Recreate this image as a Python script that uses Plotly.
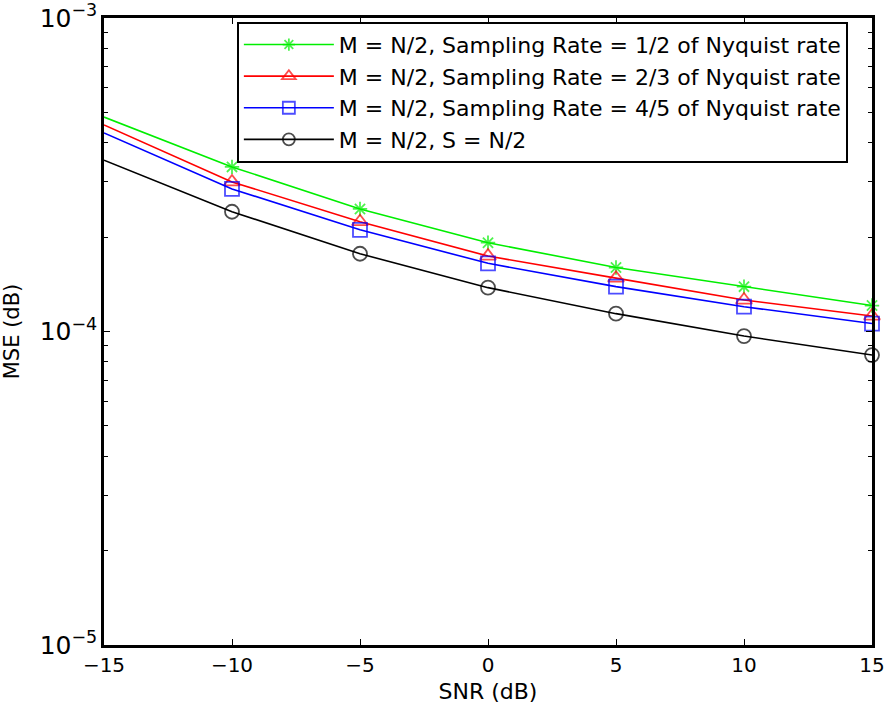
import plotly.graph_objects as go

# SNR sweep (dB)
snr = [-15, -10, -5, 0, 5, 10, 15]

# MSE curves for each sampling configuration
mse_half = [4.83e-4, 3.35e-4, 2.46e-4, 1.92e-4, 1.60e-4, 1.39e-4, 1.21e-4]
mse_two_thirds = [4.56e-4, 3.00e-4, 2.24e-4, 1.74e-4, 1.48e-4, 1.26e-4, 1.12e-4]
mse_four_fifths = [4.30e-4, 2.85e-4, 2.11e-4, 1.65e-4, 1.39e-4, 1.20e-4, 1.06e-4]
mse_s_half = [3.52e-4, 2.41e-4, 1.77e-4, 1.38e-4, 1.14e-4, 9.67e-5, 8.41e-5]

names = [
    "M = N/2, Sampling Rate = 1/2 of Nyquist rate",
    "M = N/2, Sampling Rate = 2/3 of Nyquist rate",
    "M = N/2, Sampling Rate = 4/5 of Nyquist rate",
    "M = N/2, S = N/2",
]
colors = ["#00ee00", "#ff0000", "#0000ff", "#000000"]
symbols = ["asterisk-open", "triangle-up-open", "square-open", "circle-open"]
sizes = [12, 14, 14, 14]
series = [mse_half, mse_two_thirds, mse_four_fifths, mse_s_half]

fig = go.Figure()
for i, (nm, c, sym, sz, ys) in enumerate(zip(names, colors, symbols, sizes, series)):
    # no marker at the first sample, markers from -10 dB onward
    msizes = [0] + [sz] * (len(snr) - 1)
    fig.add_trace(go.Scatter(
        x=snr, y=ys, name=nm, mode="lines+markers",
        legendgroup=f"g{i}",
        line=dict(color=c, width=1.6),
        marker=dict(symbol=sym, size=msizes, color=c,
                    line=dict(color=c, width=1.8)),
        cliponaxis=False,
    ))

font = "DejaVu Sans, Verdana, sans-serif"

fig.update_layout(
    width=888, height=704,
    margin=dict(l=104, r=16, t=18, b=59, autoexpand=False),
    paper_bgcolor="white", plot_bgcolor="white",
    font=dict(family=font, size=21, color="black"),
    showlegend=True,
    legend=dict(
        x=0.173, y=0.994, xanchor="left", yanchor="top",
        bgcolor="white", bordercolor="black", borderwidth=2,
        font=dict(family=font, size=22, color="black"),
        itemwidth=90, tracegroupgap=0,
    ),
    xaxis=dict(
        range=[-15, 15], tickvals=[-15, -10, -5, 0, 5, 10, 15],
        automargin=False,
        showgrid=False, zeroline=False,
        showline=True, linecolor="black", linewidth=2.5, mirror="ticks",
        ticks="inside", ticklen=6, tickcolor="black", tickwidth=1,
        tickfont=dict(size=20),
        title=dict(text="SNR (dB)", font=dict(size=22)),
    ),
    yaxis=dict(
        type="log", range=[-5, -3], dtick=1,
        exponentformat="power",
        automargin=False,
        showgrid=False, zeroline=False,
        showline=True, linecolor="black", linewidth=2.5, mirror="ticks",
        ticks="inside", ticklen=6, tickcolor="black", tickwidth=1,
        minor=dict(ticks="inside", ticklen=4, tickcolor="black", tickwidth=1),
        tickfont=dict(size=20),
        title=dict(text="MSE (dB)", font=dict(size=21)),
    ),
)

fig.write_html("out.html")
